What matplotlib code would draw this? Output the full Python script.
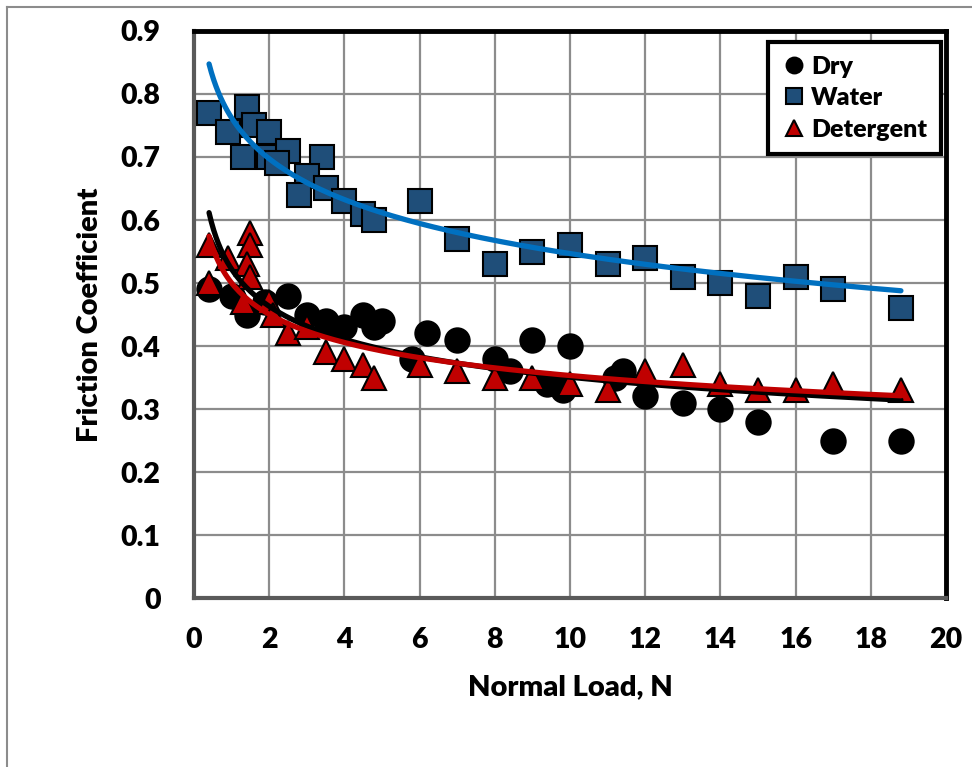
import numpy as np
import matplotlib
matplotlib.use('Agg')
import matplotlib.pyplot as plt
from matplotlib.lines import Line2D

plt.rcParams['font.family'] = ['Lato', 'DejaVu Sans']
plt.rcParams['font.weight'] = 'heavy'

# Dry
dry_x = [0.4, 1.0, 1.4, 1.9, 2.5, 3.0, 3.5, 4.0, 4.5, 4.8, 5.0, 5.8, 6.2, 7.0,
         8.0, 8.4, 9.0, 9.4, 9.8, 10.0, 11.2, 11.4, 12.0, 13.0, 14.0, 15.0,
         17.0, 18.8]
dry_y = [0.49, 0.48, 0.45, 0.47, 0.48, 0.45, 0.44, 0.43, 0.45, 0.43, 0.44, 0.38,
         0.42, 0.41, 0.38, 0.36, 0.41, 0.34, 0.33, 0.40, 0.35, 0.36, 0.32, 0.31,
         0.30, 0.28, 0.25, 0.25]

# Water
water_x = [0.4, 1.4, 0.9, 1.6, 2.0, 1.3, 2.0, 2.5, 2.2, 3.4, 3.0, 2.8, 3.5, 4.0,
           4.5, 4.8, 6.0, 7.0, 8.0, 9.0, 10.0, 11.0, 12.0, 13.0, 14.0, 15.0,
           16.0, 17.0, 18.8]
water_y = [0.77, 0.78, 0.74, 0.75, 0.74, 0.70, 0.70, 0.71, 0.69, 0.70, 0.67, 0.64,
           0.65, 0.63, 0.61, 0.60, 0.63, 0.57, 0.53, 0.55, 0.56, 0.53, 0.54, 0.51,
           0.50, 0.48, 0.51, 0.49, 0.46]

# Detergent
det_x = [0.4, 0.4, 0.9, 1.5, 1.5, 1.4, 1.5, 1.3, 2.0, 2.1, 2.5, 3.0, 3.5, 4.0,
         4.5, 4.8, 6.0, 7.0, 8.0, 9.0, 10.0, 11.0, 12.0, 13.0, 14.0, 15.0, 16.0,
         17.0, 18.8]
det_y = [0.50, 0.56, 0.54, 0.58, 0.56, 0.53, 0.51, 0.47, 0.47, 0.45, 0.42, 0.43,
         0.39, 0.38, 0.37, 0.35, 0.37, 0.36, 0.35, 0.35, 0.34, 0.33, 0.36, 0.37,
         0.34, 0.33, 0.33, 0.34, 0.33]

# trendline coefficients
dry_pow = (0.522, -0.173)      # y = a * x**b
det_pow = (0.500, -0.151)
water_log = (0.762, -0.0935)   # y = c + d*ln(x)

x_ticks = [0, 2, 4, 6, 8, 10, 12, 14, 16, 18, 20]
y_ticks = [0, 0.1, 0.2, 0.3, 0.4, 0.5, 0.6, 0.7, 0.8, 0.9]
y_labels = ['0', '0.1', '0.2', '0.3', '0.4', '0.5', '0.6', '0.7', '0.8', '0.9']

fig = plt.figure(figsize=(9.72, 7.67), dpi=100)
ax = fig.add_axes([0.1996, 0.2203, 0.7737, 0.7393])

ms = 17.5
ax.plot(dry_x, dry_y, 'o', ms=ms, color='black', mec='black', mew=1.5,
        label='Dry', zorder=3)
ax.plot(water_x, water_y, 's', ms=ms, color='#1F4E79', mec='black', mew=1.5,
        label='Water', zorder=3)
ax.plot(det_x, det_y, '^', ms=ms, color='#C00000', mec='black', mew=1.5,
        label='Detergent', zorder=3)

xs = np.linspace(min(dry_x), max(dry_x), 300)
ax.plot(xs, dry_pow[0] * xs ** dry_pow[1], color='black', lw=3.8,
        solid_capstyle='round', zorder=4)
xs = np.linspace(min(water_x), max(water_x), 300)
ax.plot(xs, water_log[0] + water_log[1] * np.log(xs), color='#0070C0', lw=3.8,
        solid_capstyle='round', zorder=4)
xs = np.linspace(min(det_x), max(det_x), 300)
ax.plot(xs, det_pow[0] * xs ** det_pow[1], color='#C00000', lw=3.8,
        solid_capstyle='round', zorder=4)

ax.set_xlim(0, 20)
ax.set_ylim(0, 0.9)
ax.set_xticks(x_ticks)
ax.set_yticks(y_ticks)
ax.set_yticklabels(y_labels)
ax.tick_params(length=0, labelsize=20.5, pad=21)
ax.tick_params(axis='y', pad=24)
for lab in ax.get_xticklabels() + ax.get_yticklabels():
    lab.set_fontweight('heavy')
ax.grid(True, color='#8c8c8c', lw=1.6, zorder=0)
ax.set_axisbelow(True)

for side in ['top', 'right']:
    ax.spines[side].set_linewidth(3.5)
    ax.spines[side].set_color('black')
for side in ['left', 'bottom']:
    ax.spines[side].set_linewidth(3.0)
    ax.spines[side].set_color('#5a5a5a')

ax.set_xlabel('Normal Load, N', fontsize=21, fontweight='heavy', labelpad=15)
ax.set_ylabel('Friction Coefficient', fontsize=21, fontweight='heavy', labelpad=13)

leg = ax.legend(loc='upper right', bbox_to_anchor=(0.9934, 0.9806), fontsize=18,
                markerscale=0.65, handletextpad=0.2, handlelength=1.0,
                borderpad=0.55, labelspacing=0.38, borderaxespad=0,
                fancybox=False, framealpha=1, edgecolor='black')
leg.get_frame().set_linewidth(3.0)
for t in leg.get_texts():
    t.set_fontweight('heavy')

# outer chart border (top and left edges visible)
fig.add_artist(Line2D([7 / 972, 1], [1 - 7 / 767, 1 - 7 / 767],
                      transform=fig.transFigure, color='#8c8c8c', lw=1.5))
fig.add_artist(Line2D([7 / 972, 7 / 972], [0, 1 - 7 / 767],
                      transform=fig.transFigure, color='#8c8c8c', lw=1.5))

fig.savefig('out.png', dpi=100)
